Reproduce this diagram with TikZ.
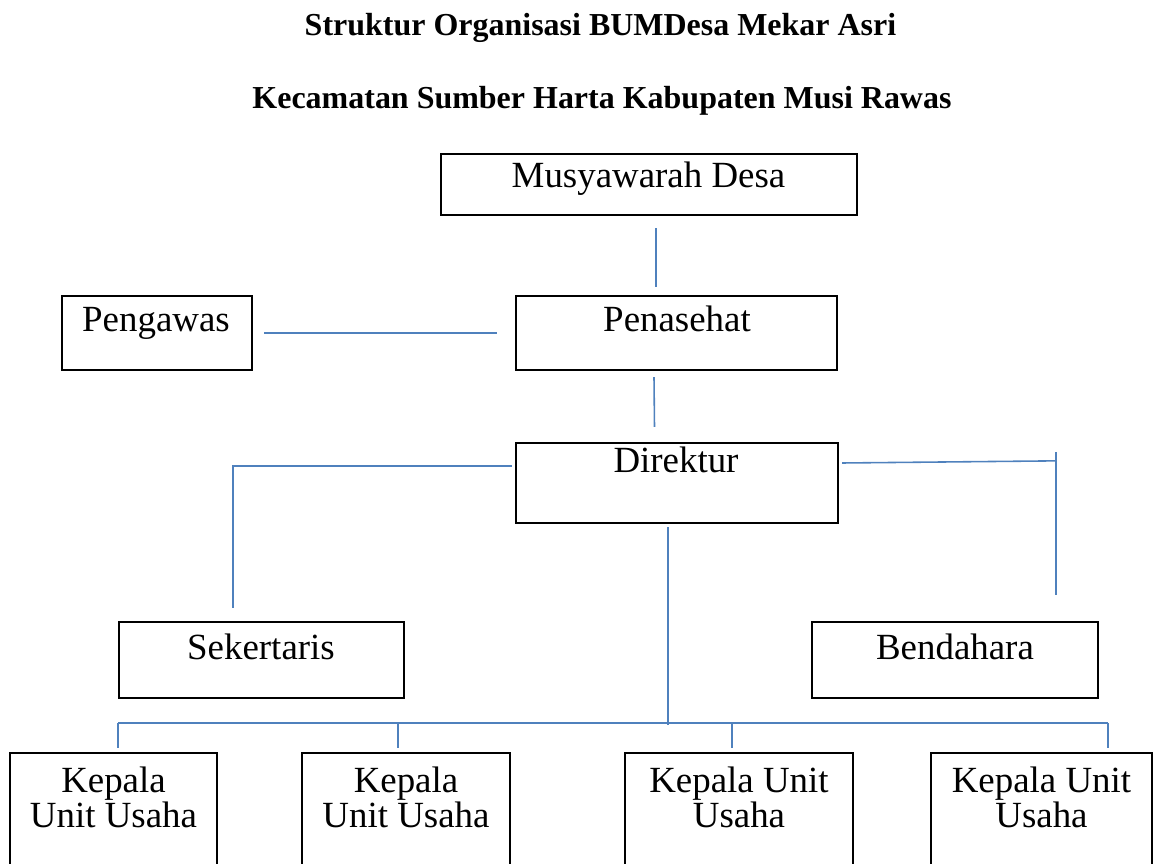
\documentclass[tikz,border=0pt]{standalone}
\usepackage{fontspec}
\setmainfont{Liberation Serif}
\usetikzlibrary{calc}
\definecolor{linkblue}{RGB}{79,129,189}

\tikzset{
    box/.style={draw=black, line width=1.3pt, inner sep=0pt},
    boxtext/.style={font=\fontsize{21}{20}\selectfont, anchor=base, align=center, inner sep=0pt},
    heading/.style={font=\fontsize{18.2}{22}\selectfont\bfseries, anchor=base, inner sep=0pt},
    link/.style={draw=linkblue, line width=0.9pt}
}

\begin{document}
\begin{tikzpicture}[x=0.02cm, y=-0.02cm]
    % Page frame
    \clip (0,0) rectangle (1154,864);

    % Titles
    \node[heading] (title) at (600.5,36) {Struktur Organisasi BUMDesa Mekar Asri};
    \node[heading] (subtitle) at (602,109) {Kecamatan Sumber Harta Kabupaten Musi Rawas};

    % Boxes
    \node[box, minimum width=8.32cm, minimum height=1.22cm] (musdes) at (649,184.5) {};
    \node[box, minimum width=3.8cm, minimum height=1.48cm] (pengawas) at (157,333) {};
    \node[box, minimum width=6.42cm, minimum height=1.48cm] (penasehat) at (676.5,333) {};
    \node[box, minimum width=6.44cm, minimum height=1.6cm] (direktur) at (677,483) {};
    \node[box, minimum width=5.7cm, minimum height=1.52cm] (sekertaris) at (261.5,660) {};
    \node[box, minimum width=5.72cm, minimum height=1.52cm] (bendahara) at (955,660) {};

    % Box texts
    \node[boxtext] (musdes-t) at (648.5,188) {Musyawarah Desa};
    \node[boxtext] (pengawas-t) at (156,332) {Pengawas};
    \node[boxtext] (penasehat-t) at (677,332) {Penasehat};
    \node[boxtext] (direktur-t) at (676,473) {Direktur};
    \node[boxtext] (sekertaris-t) at (261,660) {Sekertaris};
    \node[boxtext] (bendahara-t) at (955,660) {Bendahara};

    % Unit heads
    \foreach \n/\x/\w/\txt in {k1/113.5/4.14/{Kepala\\Unit Usaha},
                               k2/406/4.16/{Kepala\\Unit Usaha},
                               k3/739/4.56/{Kepala Unit\\Usaha},
                               k4/1041.5/4.42/{Kepala Unit\\Usaha}} {
        \node[box, minimum width=\w cm, minimum height=2.94cm] (\n) at (\x,826.5) {};
        \node[boxtext] (\n-t) at (\x,828) {\txt};
    }

    % Connectors
    \draw[link] ($(musdes.south)+(7,12)$) -- ($(penasehat.north)+(-20.5,-8)$);
    \draw[link] ($(pengawas.east)+(11,0)$) -- ($(penasehat.west)+(-18,0)$);
    \draw[link] ($(penasehat.south)+(-22.5,6)$) -- ($(direktur.north)+(-22.5,-15)$);
    \draw[link] ($(direktur.west)+(-3,-17)$) -| ($(sekertaris.north)+(-28.5,-13)$);
    \draw[link] ($(direktur.east)+(3,-20)$) -- ($(bendahara.north)+(101,-160)$);
    \draw[link] ($(bendahara.north)+(101,-169)$) -- ($(bendahara.north)+(101,-26)$);

    % Bus to unit heads
    \coordinate (bus) at ($(direktur.south)+(-9,201)$);
    \draw[link] ($(direktur.south)+(-9,3)$) -- (bus);
    \draw[link] ($(k1.north)+(4.5,-29)$) -- ($(k4.north)+(66.5,-29)$);
    \foreach \n/\dx in {k1/4.5, k2/-8, k3/-7, k4/66.5}
        \draw[link] ($(\n.north)+(\dx,-29)$) -- ($(\n.north)+(\dx,-4)$);
\end{tikzpicture}
\end{document}
